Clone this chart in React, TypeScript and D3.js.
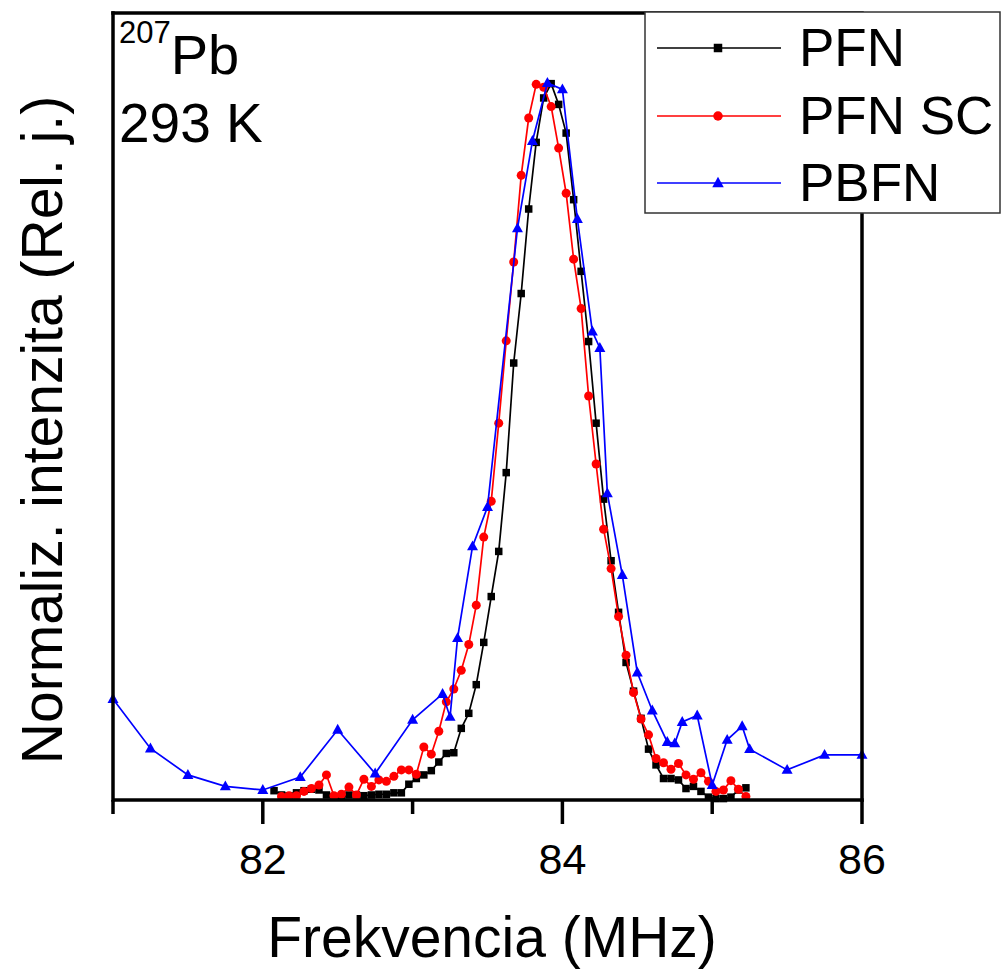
import React, { useEffect, useRef } from "react";
import * as d3 from "d3";

const pfnX = [82.075, 82.125, 82.175, 82.225, 82.275, 82.325, 82.375, 82.425, 82.475, 82.525, 82.575, 82.625, 82.675, 82.725, 82.775, 82.825, 82.875, 82.925, 82.975, 83.025, 83.075, 83.125, 83.175, 83.225, 83.275, 83.325, 83.375, 83.425, 83.475, 83.525, 83.575, 83.625, 83.675, 83.725, 83.775, 83.825, 83.875, 83.925, 83.975, 84.025, 84.075, 84.125, 84.175, 84.225, 84.275, 84.325, 84.375, 84.425, 84.475, 84.525, 84.575, 84.625, 84.675, 84.725, 84.775, 84.825, 84.875, 84.925, 84.975, 85.025, 85.075, 85.125, 85.175, 85.225];
const pfnY = [0.013, 0.007, 0.006, 0.010, 0.013, 0.015, 0.014, 0.007, 0.004, 0.004, 0.007, 0.007, 0.006, 0.007, 0.008, 0.008, 0.010, 0.010, 0.022, 0.030, 0.035, 0.041, 0.053, 0.065, 0.066, 0.100, 0.121, 0.161, 0.220, 0.284, 0.347, 0.457, 0.610, 0.707, 0.825, 0.918, 0.980, 1.000, 0.971, 0.931, 0.838, 0.738, 0.640, 0.526, 0.420, 0.334, 0.262, 0.192, 0.152, 0.114, 0.071, 0.049, 0.030, 0.030, 0.028, 0.016, 0.019, 0.012, 0.004, 0.002, 0.002, 0.004, 0.014, 0.017];

const scX = [82.125, 82.175, 82.225, 82.275, 82.325, 82.375, 82.425, 82.475, 82.525, 82.575, 82.625, 82.675, 82.725, 82.775, 82.825, 82.875, 82.925, 82.975, 83.025, 83.075, 83.125, 83.175, 83.225, 83.275, 83.325, 83.375, 83.425, 83.475, 83.525, 83.575, 83.625, 83.675, 83.725, 83.775, 83.825, 83.875, 83.925, 83.975, 84.025, 84.075, 84.125, 84.175, 84.225, 84.275, 84.325, 84.375, 84.425, 84.475, 84.525, 84.575, 84.625, 84.675, 84.725, 84.775, 84.825, 84.875, 84.925, 84.975, 85.025, 85.075, 85.125, 85.175, 85.225];
const scY = [0.005, 0.006, 0.006, 0.012, 0.016, 0.021, 0.035, 0.006, 0.008, 0.018, 0.007, 0.029, 0.019, 0.028, 0.026, 0.033, 0.042, 0.042, 0.036, 0.074, 0.064, 0.096, 0.137, 0.155, 0.181, 0.217, 0.272, 0.367, 0.417, 0.526, 0.641, 0.751, 0.872, 0.952, 0.999, 0.995, 0.968, 0.910, 0.847, 0.755, 0.686, 0.564, 0.469, 0.378, 0.323, 0.256, 0.202, 0.150, 0.113, 0.091, 0.058, 0.052, 0.043, 0.051, 0.035, 0.029, 0.038, 0.026, 0.012, 0.014, 0.027, 0.015, 0.005];

const pbfnX = [81.0, 81.25, 81.5, 81.75, 82.0, 82.25, 82.5, 82.75, 83.0, 83.2, 83.25, 83.3, 83.4, 83.5, 83.7, 83.8, 83.9, 84.0, 84.1, 84.2, 84.25, 84.3, 84.4, 84.5, 84.6, 84.7, 84.75, 84.8, 84.9, 85.0, 85.1, 85.2, 85.25, 85.5, 85.75, 86.0];
const pbfnY = [0.141, 0.072, 0.035, 0.019, 0.014, 0.032, 0.098, 0.037, 0.112, 0.148, 0.116, 0.226, 0.354, 0.409, 0.798, 0.920, 1.001, 0.992, 0.811, 0.654, 0.631, 0.428, 0.314, 0.178, 0.125, 0.081, 0.079, 0.109, 0.118, 0.021, 0.084, 0.103, 0.071, 0.042, 0.063, 0.063];

const xTicksMajor = [82, 84, 86];
const xTicksMinor = [81, 83, 85];
const legendLabels = ["PFN", "PFN SC", "PBFN"];

const FONT = "'Liberation Sans', Arial, Helvetica, sans-serif";

export default function App() {
  const ref = useRef<SVGSVGElement | null>(null);

  useEffect(() => {
    const svg = d3.select(ref.current);
    svg.selectAll("*").remove();

    const L = 113, R = 862, T = 13, B = 800;
    const x = d3.scaleLinear().domain([81, 86]).range([L, R]);
    const y = d3.scaleLinear().domain([0, 1.1]).range([B, 12]);

    const series = [
      { xs: pfnX, ys: pfnY, color: "#000000", marker: "square" },
      { xs: scX, ys: scY, color: "#ff0000", marker: "circle" },
      { xs: pbfnX, ys: pbfnY, color: "#0000ff", marker: "triangle" },
    ];

    const line = d3.line<[number, number]>().x(d => x(d[0])).y(d => y(d[1]));

    const drawMarker = (g: any, type: string, cx: number, cy: number, color: string, size: number) => {
      if (type === "square") {
        g.append("rect").attr("x", cx - size / 2).attr("y", cy - size / 2)
          .attr("width", size).attr("height", size).attr("fill", color);
      } else if (type === "circle") {
        g.append("circle").attr("cx", cx).attr("cy", cy).attr("r", size / 2).attr("fill", color);
      } else {
        const h = size * 0.9;
        g.append("path")
          .attr("d", `M${cx},${cy - h * 0.6}L${cx + size / 2},${cy + h * 0.4}L${cx - size / 2},${cy + h * 0.4}Z`)
          .attr("fill", color);
      }
    };

    const plot = svg.append("g");
    series.forEach(s => {
      const pts: [number, number][] = s.xs.map((v, i) => [v, s.ys[i]]);
      plot.append("path").datum(pts).attr("d", line as any)
        .attr("fill", "none").attr("stroke", s.color).attr("stroke-width", 1.7);
      const mg = plot.append("g");
      pts.forEach(p => {
        const sz = s.marker === "square" ? 7.5 : s.marker === "circle" ? 9 : 11;
        drawMarker(mg, s.marker, x(p[0]), y(p[1]), s.color, sz);
      });
    });

    // frame
    const frame = svg.append("g").attr("stroke", "#000").attr("stroke-width", 3.5).attr("fill", "none");
    frame.append("line").attr("x1", L).attr("x2", L).attr("y1", T - 1.75).attr("y2", B + 1.75);
    frame.append("line").attr("x1", L).attr("x2", R + 1.75).attr("y1", B).attr("y2", B);
    frame.append("line").attr("x1", L - 1.75).attr("x2", R + 1.75).attr("y1", T).attr("y2", T);
    frame.append("line").attr("x1", R).attr("x2", R).attr("y1", T).attr("y2", B + 1.75);

    xTicksMajor.forEach(t => {
      frame.append("line").attr("x1", x(t)).attr("x2", x(t)).attr("y1", B).attr("y2", B + 24);
    });
    xTicksMinor.forEach(t => {
      frame.append("line").attr("x1", x(t)).attr("x2", x(t)).attr("y1", B).attr("y2", B + 14);
    });

    const labels = svg.append("g").attr("font-family", FONT).attr("fill", "#000");
    xTicksMajor.forEach(t => {
      labels.append("text").attr("x", x(t)).attr("y", 874).attr("text-anchor", "middle")
        .attr("font-size", 43).text(String(t));
    });
    labels.append("text").attr("x", 492).attr("y", 957).attr("text-anchor", "middle")
      .attr("font-size", 57).text("Frekvencia (MHz)");
    labels.append("text").attr("transform", "translate(62,430) rotate(-90)")
      .attr("text-anchor", "middle").attr("font-size", 57).text("Normaliz. intenzita (Rel. j.)");

    const ann = labels.append("text").attr("x", 119).attr("y", 74).attr("font-size", 56);
    ann.append("tspan").attr("font-size", 31).attr("dy", -31).text("207");
    ann.append("tspan").attr("dy", 31).text("Pb");
    labels.append("text").attr("x", 119).attr("y", 142).attr("font-size", 55).text("293 K");

    // legend
    const lg = svg.append("g");
    lg.append("rect").attr("x", 645).attr("y", 12).attr("width", 355).attr("height", 201)
      .attr("fill", "#fff").attr("stroke", "#333").attr("stroke-width", 1.5);
    const rows = [48, 116, 183];
    series.forEach((s, i) => {
      const ry = rows[i];
      lg.append("line").attr("x1", 657).attr("x2", 781).attr("y1", ry).attr("y2", ry)
        .attr("stroke", s.color).attr("stroke-width", 1.7);
      const sz = s.marker === "square" ? 8.5 : s.marker === "circle" ? 9.5 : 11.5;
      drawMarker(lg, s.marker, 718, ry, s.color, sz);
      lg.append("text").attr("x", 799).attr("y", ry + 18).attr("font-family", FONT)
        .attr("font-size", 53).attr("fill", "#000").text(legendLabels[i]);
    });
  }, []);

  return (
    <svg ref={ref} width={1003} height={970}
      style={{ position: "absolute", left: 0, top: 0, background: "#fff" }} />
  );
}
